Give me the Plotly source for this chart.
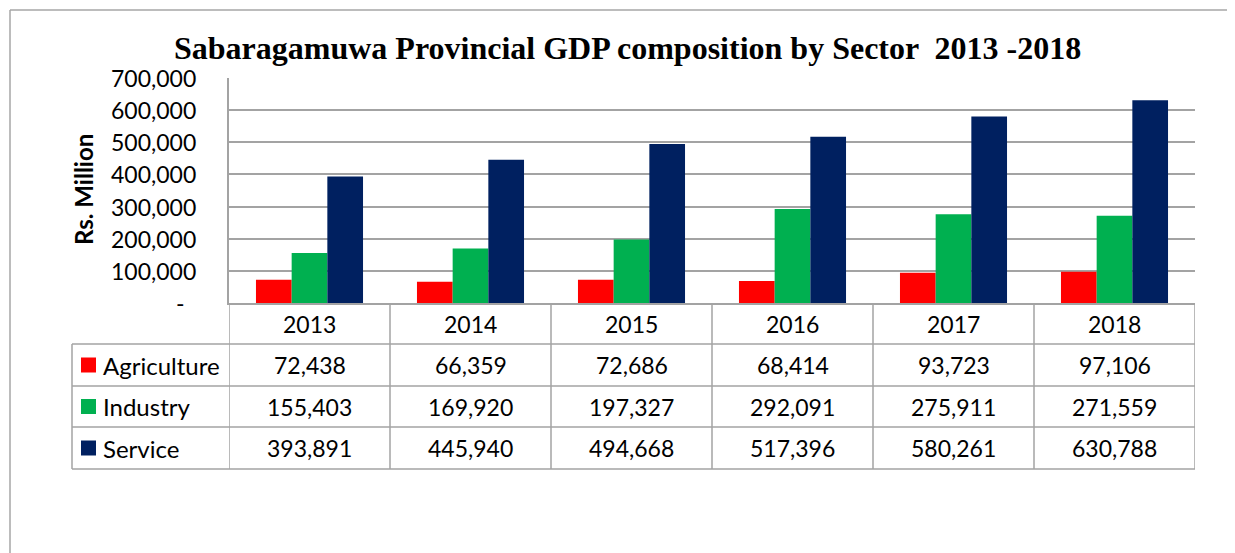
import plotly.graph_objects as go

years = ["2013", "2014", "2015", "2016", "2017", "2018"]
agriculture = [72438, 66359, 72686, 68414, 93723, 97106]
industry = [155403, 169920, 197327, 292091, 275911, 271559]
service = [393891, 445940, 494668, 517396, 580261, 630788]
series_names = ["Agriculture", "Industry", "Service"]
series_colors = ["#FF0000", "#00B050", "#002060"]
ytick_vals = [0, 100000, 200000, 300000, 400000, 500000, 600000, 700000]
ytick_text = ["-\u00a0\u00a0", "100,000", "200,000", "300,000", "400,000",
              "500,000", "600,000", "700,000"]

# the page body adds an 8px offset, so the figure is slightly smaller
OFF = 8
W, H = 1235 - OFF, 553 - OFF
def px(x):
    return (x - OFF) / W
def py(y):
    return 1 - (y - OFF) / H

FONT = "Lato"
GRID = "#A3A3A3"

fig = go.Figure()
all_series = [agriculture, industry, service]
for name, vals, col in zip(series_names, all_series, series_colors):
    fig.add_trace(go.Bar(x=years, y=vals, name=name, marker_color=col,
                         marker_line_width=0, showlegend=False))

shapes = []
annotations = []

# outer chart frame (top and left only visible)
shapes.append(dict(type="line", xref="paper", yref="paper", x0=px(10), x1=1.0,
                   y0=py(10), y1=py(10), line=dict(color="#A6A6A6", width=1.5)))
shapes.append(dict(type="line", xref="paper", yref="paper", x0=px(10), x1=px(10),
                   y0=py(10), y1=0, line=dict(color="#A6A6A6", width=1.5)))

# table geometry
row_edges = [303, 344, 386, 427, 469]
tbl_left = 72
line_style = dict(color=GRID, width=1.5)

# vertical column lines through the data table
for i in range(len(years) + 1):
    shapes.append(dict(type="line", xref="x", yref="paper", x0=i - 0.5, x1=i - 0.5,
                       y0=py(row_edges[0]), y1=py(row_edges[-1]), line=line_style))
# legend column left border
shapes.append(dict(type="line", xref="paper", yref="paper", x0=px(tbl_left), x1=px(tbl_left),
                   y0=py(row_edges[1]), y1=py(row_edges[-1]), line=line_style))
# horizontal row lines
for yy in row_edges[1:]:
    shapes.append(dict(type="line", xref="paper", yref="paper", x0=px(tbl_left), x1=px(1195),
                       y0=py(yy), y1=py(yy), line=line_style))

# y tick labels placed on the y axis scale
for v, t in zip(ytick_vals, ytick_text):
    annotations.append(dict(x=px(198), xref="paper", y=v, yref="y", text=t,
                            showarrow=False, xanchor="right", yanchor="middle",
                            font=dict(family=FONT, size=23, color="#000000")))

# header years
for i, yr in enumerate(years):
    annotations.append(dict(x=i, xref="x", y=py((row_edges[0] + row_edges[1]) / 2), yref="paper",
                            text=yr, showarrow=False, xanchor="center", yanchor="middle",
                            font=dict(family=FONT, size=23, color="#000000")))

# data rows
for r, (name, vals, col) in enumerate(zip(series_names, all_series, series_colors)):
    yc = (row_edges[r + 1] + row_edges[r + 2]) / 2
    shapes.append(dict(type="rect", xref="paper", yref="paper", x0=px(81), x1=px(96),
                       y0=py(yc - 7.5), y1=py(yc + 7.5), fillcolor=col, line=dict(width=0)))
    annotations.append(dict(x=px(101), xref="paper", y=py(yc), yref="paper", text=name,
                            showarrow=False, xanchor="left", yanchor="middle",
                            font=dict(family=FONT, size=24, color="#000000")))
    for i, v in enumerate(vals):
        annotations.append(dict(x=i, xref="x", y=py(yc), yref="paper", text=f"{v:,}",
                                showarrow=False, xanchor="center", yanchor="middle",
                                font=dict(family=FONT, size=23, color="#000000")))

# title
annotations.append(dict(x=px(627), xref="paper", y=py(48), yref="paper",
                        text="<b>Sabaragamuwa Provincial GDP composition by Sector  2013 -2018</b>",
                        showarrow=False, xanchor="center", yanchor="middle",
                        font=dict(family="Liberation Serif", size=32, color="#000000")))
# y axis title
annotations.append(dict(x=px(83), xref="paper", y=py(190), yref="paper",
                        text="<b>Rs. Million</b>", textangle=-90,
                        showarrow=False, xanchor="center", yanchor="middle",
                        font=dict(family=FONT, size=24, color="#000000")))

fig.update_layout(
    width=W, height=H, autosize=False,
    margin=dict(l=0, r=0, t=0, b=0, pad=0, autoexpand=False),
    paper_bgcolor="white", plot_bgcolor="white",
    barmode="group", bargap=0.335, bargroupgap=0,
    shapes=shapes, annotations=annotations,
    xaxis=dict(domain=[px(229), px(1195)], range=[-0.5, 5.5], type="category",
               showticklabels=False, showgrid=False, zeroline=False,
               showline=True, linecolor=GRID, linewidth=1.5, ticks=""),
    yaxis=dict(domain=[py(303), py(78)], range=[0, 700000], automargin=False,
               tickvals=ytick_vals, showticklabels=False,
               showgrid=True, gridcolor=GRID, gridwidth=1.5, zeroline=False,
               showline=True, linecolor=GRID, linewidth=1.5, ticks=""),
)

fig.write_html("out.html")
